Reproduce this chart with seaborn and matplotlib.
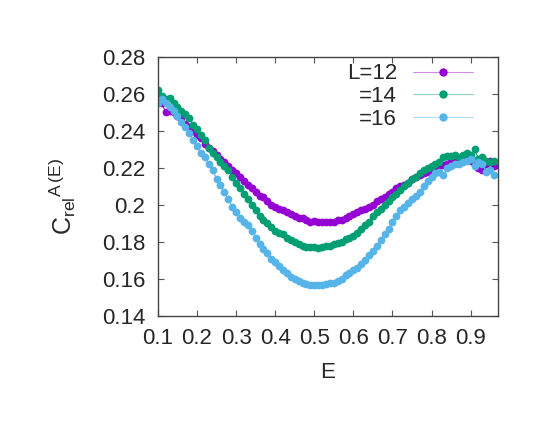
import numpy as np
import pandas as pd
import seaborn as sns
import matplotlib
matplotlib.use("Agg")
import matplotlib.pyplot as plt
from matplotlib.colors import to_rgb
from matplotlib.ticker import FuncFormatter, MultipleLocator

# energy grid, one point every 0.01
energy = [round(0.10 + 0.01 * i, 2) for i in range(87)]

# L=12
c_l12 = [0.258, 0.255, 0.250, 0.251, 0.250, 0.248, 0.247, 0.244, 0.242, 0.240,
         0.238, 0.236, 0.233, 0.231, 0.229, 0.227, 0.225, 0.223, 0.221, 0.219,
         0.217, 0.215, 0.213, 0.211, 0.209, 0.207, 0.205, 0.204, 0.202, 0.200,
         0.199, 0.198, 0.197, 0.196, 0.195, 0.194, 0.193, 0.193, 0.192, 0.191,
         0.1915, 0.191, 0.191, 0.1905, 0.191, 0.191, 0.192, 0.192, 0.193, 0.194,
         0.195, 0.196, 0.197, 0.198, 0.199, 0.200, 0.202, 0.203, 0.204, 0.206,
         0.207, 0.209, 0.210, 0.211, 0.212, 0.214, 0.215, 0.216, 0.217, 0.218,
         0.219, 0.220, 0.221, 0.2215, 0.222, 0.223, 0.223, 0.224, 0.224, 0.225,
         0.224, 0.222, 0.220, 0.219, 0.222, 0.224, 0.221]

# L=14
c_l14 = [0.262, 0.259, 0.257, 0.258, 0.255, 0.253, 0.251, 0.249, 0.247, 0.243,
         0.241, 0.238, 0.235, 0.231, 0.228, 0.226, 0.223, 0.221, 0.219, 0.215,
         0.212, 0.209, 0.206, 0.203, 0.200, 0.197, 0.194, 0.192, 0.190, 0.188,
         0.186, 0.185, 0.184, 0.182, 0.181, 0.180, 0.179, 0.178, 0.1775, 0.177,
         0.1775, 0.1765, 0.1775, 0.178, 0.178, 0.179, 0.1795, 0.180, 0.1815, 0.182,
         0.183, 0.185, 0.187, 0.189, 0.191, 0.194, 0.196, 0.198, 0.200, 0.202,
         0.204, 0.206, 0.208, 0.210, 0.212, 0.214, 0.215, 0.217, 0.219, 0.220,
         0.221, 0.222, 0.223, 0.226, 0.2265, 0.2265, 0.227, 0.226, 0.227, 0.228,
         0.227, 0.230, 0.225, 0.226, 0.224, 0.223, 0.224]

# L=16
c_l16 = [0.255, 0.257, 0.255, 0.253, 0.251, 0.248, 0.245, 0.242, 0.239, 0.235,
         0.232, 0.228, 0.226, 0.222, 0.219, 0.214, 0.211, 0.207, 0.203, 0.199,
         0.196, 0.193, 0.191, 0.189, 0.186, 0.182, 0.179, 0.176, 0.174, 0.171,
         0.169, 0.167, 0.165, 0.163, 0.161, 0.160, 0.159, 0.158, 0.157, 0.1567,
         0.1565, 0.1565, 0.1565, 0.157, 0.1575, 0.158, 0.159, 0.160, 0.162, 0.163,
         0.165, 0.166, 0.168, 0.170, 0.173, 0.175, 0.178, 0.181, 0.184, 0.187,
         0.191, 0.194, 0.197, 0.199, 0.201, 0.203, 0.205, 0.207, 0.210, 0.213,
         0.215, 0.217, 0.218, 0.216, 0.220, 0.221, 0.222, 0.222, 0.223, 0.224,
         0.225, 0.221, 0.223, 0.222, 0.218, 0.219, 0.216]

labels = ["L=12", "=14", "=16"]
colors = ["#9400d3", "#009e73", "#56b4e9"]
series = [c_l12, c_l14, c_l16]

sns.set_style("ticks")
plt.rcParams["font.family"] = ["Liberation Sans", "DejaVu Sans"]
plt.rcParams["mathtext.fontset"] = "custom"
plt.rcParams["mathtext.rm"] = "Liberation Sans"
plt.rcParams["mathtext.it"] = "Liberation Sans"

fig = plt.figure(figsize=(5.54, 4.28), dpi=100)
ax = fig.add_axes([0.285, 0.262, 0.614, 0.605])

for lab, col, vals in zip(labels, colors, series):
    df = pd.DataFrame({"E": energy, "C": vals})
    sns.lineplot(data=df, x="E", y="C", ax=ax, color=col, label=lab,
                 marker="o", markersize=5.6, markeredgewidth=0,
                 linewidth=0.8, estimator=None, sort=False)

ax.set_xlim(0.1, 0.97)
ax.set_ylim(0.14, 0.28)
ax.xaxis.set_major_locator(MultipleLocator(0.1))
ax.yaxis.set_major_locator(MultipleLocator(0.02))
ax.xaxis.set_major_formatter(FuncFormatter(lambda v, p: "%g" % round(v, 2)))
ax.yaxis.set_major_formatter(FuncFormatter(lambda v, p: "%g" % round(v, 2)))

ax.tick_params(direction="in", length=4, width=0.8, color="#555555",
               top=True, right=True, labelsize=16, pad=9)
for s in ax.spines.values():
    s.set_linewidth(1.0)
    s.set_color("#444444")

ax.set_xlabel("E", fontsize=16)
ax.set_ylabel(r"$\mathrm{C}_{\mathrm{rel}}{}^{\mathrm{A}\,\mathrm{(E)}}$", fontsize=18)
ax.xaxis.set_label_coords(0.5, -0.18)
ax.yaxis.set_label_coords(-0.235, 0.46)

leg = ax.legend(loc="upper right", bbox_to_anchor=(0.925, 0.975),
                frameon=False, markerfirst=False, numpoints=1,
                handlelength=2.7, handletextpad=0.7, labelspacing=0.08,
                borderpad=0, borderaxespad=0, fontsize=16)
for h, col in zip(leg.get_lines(), colors):
    light = tuple(0.45 * c + 0.55 for c in to_rgb(col))
    h.set_color(light)
    h.set_markerfacecolor(col)
    h.set_markeredgecolor(col)
    h.set_markersize(6)

fig.savefig("out.png", dpi=100)
